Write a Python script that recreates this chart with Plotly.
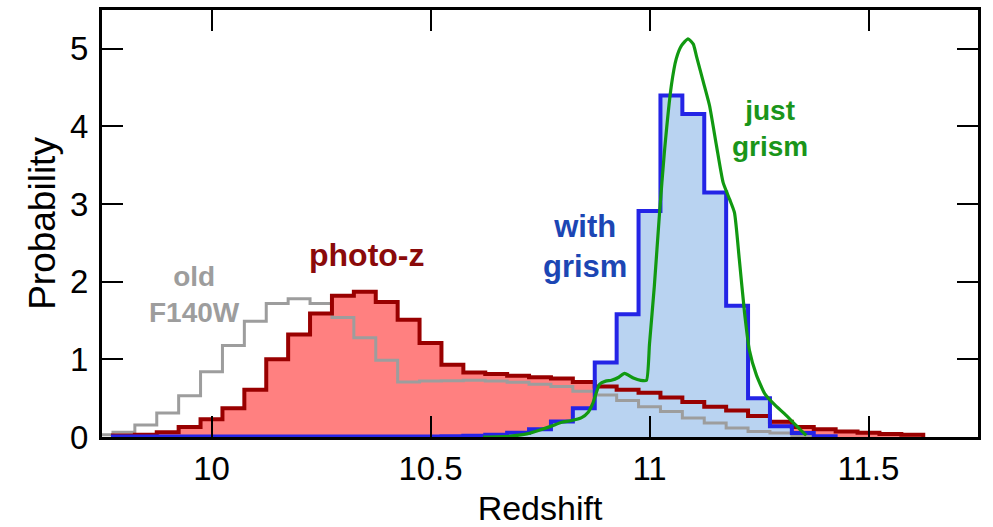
import numpy as np
import plotly.graph_objects as go

# ---------------- data ----------------
BIN = 0.05

# photo-z histogram (dark red, filled)
photoz_centers = [9.80, 9.85, 9.90, 9.95, 10.00, 10.05, 10.10, 10.15, 10.20, 10.25,
                  10.30, 10.35, 10.40, 10.45, 10.50, 10.55, 10.60, 10.65, 10.70, 10.75,
                  10.80, 10.85, 10.90, 10.95, 11.00, 11.05, 11.10, 11.15, 11.20, 11.25,
                  11.30, 11.35, 11.40, 11.45, 11.50, 11.55, 11.60]
photoz_vals = [0.02, 0.03, 0.06, 0.13, 0.23, 0.37, 0.61, 1.00, 1.32, 1.59,
               1.82, 1.87, 1.74, 1.51, 1.21, 0.93, 0.83, 0.81, 0.79, 0.77,
               0.755, 0.71, 0.65, 0.61, 0.57, 0.51, 0.45, 0.39, 0.34, 0.27,
               0.195, 0.13, 0.10, 0.07, 0.055, 0.04, 0.03]

# with grism histogram (blue, filled)
grism_centers = [9.80, 9.85, 9.90, 9.95, 10.00, 10.05, 10.10, 10.15, 10.20, 10.25,
                 10.30, 10.35, 10.40, 10.45, 10.50, 10.55, 10.60, 10.65, 10.70, 10.75,
                 10.80, 10.85, 10.90, 10.95, 11.00, 11.05, 11.10, 11.15, 11.20, 11.25,
                 11.30, 11.35, 11.40]
grism_vals = [0.005, 0.005, 0.005, 0.005, 0.005, 0.005, 0.005, 0.005, 0.005, 0.005,
              0.005, 0.005, 0.005, 0.005, 0.008, 0.01, 0.015, 0.03, 0.055, 0.10,
              0.20, 0.37, 0.96, 1.58, 2.91, 4.40, 4.16, 3.15, 1.69, 0.50,
              0.14, 0.05, 0.01]

# old F140W histogram (gray, line only)
old_centers = [9.75, 9.80, 9.85, 9.90, 9.95, 10.00, 10.05, 10.10, 10.15, 10.20,
               10.25, 10.30, 10.35, 10.40, 10.45, 10.50, 10.55, 10.60, 10.65, 10.70,
               10.75, 10.80, 10.85, 10.90, 10.95, 11.00, 11.05, 11.10, 11.15, 11.20,
               11.25, 11.30, 11.35]
old_vals = [0.03, 0.06, 0.155, 0.31, 0.53, 0.84, 1.18, 1.49, 1.72, 1.78,
            1.72, 1.54, 1.28, 0.99, 0.71, 0.72, 0.725, 0.73, 0.72, 0.705,
            0.68, 0.65, 0.59, 0.54, 0.47, 0.39, 0.33, 0.245, 0.18, 0.115,
            0.07, 0.05, 0.02]

# just grism curve (green, smooth)
just_z = [10.62, 10.68, 10.72, 10.75, 10.776, 10.80, 10.82, 10.845, 10.86, 10.871,
          10.886, 10.90, 10.913, 10.93, 10.943, 10.963, 10.98, 10.993, 11.000, 11.011,
          11.023, 11.034, 11.050, 11.061, 11.073, 11.088, 11.100, 11.107, 11.123, 11.137,
          11.153, 11.168, 11.183, 11.194, 11.205, 11.217, 11.228, 11.244, 11.263, 11.285,
          11.308, 11.331, 11.347, 11.358]
just_p = [0.0, 0.01, 0.04, 0.09, 0.14, 0.19, 0.21, 0.25, 0.32, 0.44,
          0.68, 0.72, 0.73, 0.77, 0.82, 0.76, 0.73, 0.73, 1.20, 1.94,
          2.89, 3.67, 4.53, 4.87, 5.04, 5.13, 5.06, 4.91, 4.57, 4.27,
          3.75, 3.28, 3.06, 2.89, 2.29, 1.60, 1.12, 0.80, 0.56, 0.42,
          0.30, 0.17, 0.08, 0.02]

x_tickvals = [10, 10.5, 11, 11.5]
x_ticktext = ["10", "10.5", "11", "11.5"]
y_tickvals = [0, 1, 2, 3, 4, 5]
y_ticktext = ["0", "1", "2", "3", "4", "5"]

# ---------------- styles ----------------
RED_LINE = "#990000"
RED_FILL = "#ff8080"
BLUE_LINE = "#2424e6"
BLUE_FILL = "#b9d3f1"
GRAY_LINE = "#9d9d9d"
GREEN_LINE = "#119911"
FONT = "Liberation Sans"


def step_xy(centers, vals):
    c = np.asarray(centers, dtype=float)
    edges = list(c - BIN / 2) + [c[-1] + BIN / 2]
    x = [edges[0]] + edges + [edges[-1]]
    y = [0.0] + list(vals) + [vals[-1], 0.0]
    return x, y


rx, ry = step_xy(photoz_centers, photoz_vals)
bx, by = step_xy(grism_centers, grism_vals)
gx, gy = step_xy(old_centers, old_vals)

fig = go.Figure()
fig.add_trace(go.Scatter(x=rx, y=ry, mode="lines", line=dict(shape="hv", width=0),
                         fill="tozeroy", fillcolor=RED_FILL, hoverinfo="skip", showlegend=False))
fig.add_trace(go.Scatter(x=bx, y=by, mode="lines", line=dict(shape="hv", width=0),
                         fill="tozeroy", fillcolor=BLUE_FILL, hoverinfo="skip", showlegend=False))
fig.add_trace(go.Scatter(x=gx, y=gy, mode="lines", line=dict(shape="hv", width=3, color=GRAY_LINE),
                         name="old F140W", showlegend=False))
fig.add_trace(go.Scatter(x=rx, y=ry, mode="lines", line=dict(shape="hv", width=4, color=RED_LINE),
                         name="photo-z", showlegend=False))
fig.add_trace(go.Scatter(x=bx, y=by, mode="lines", line=dict(shape="hv", width=4, color=BLUE_LINE),
                         name="with grism", showlegend=False))
fig.add_trace(go.Scatter(x=just_z, y=just_p, mode="lines",
                         line=dict(shape="spline", smoothing=0.5, width=3.2, color=GREEN_LINE),
                         name="just grism", showlegend=False))

labels = [
    ("old<br>F140W", 9.961, 1.84, GRAY_LINE, 28),
    ("photo-z", 10.354, 2.35, "#8a0a0a", 32),
    ("with<br>grism", 10.852, 2.45, "#1c46b4", 31),
    ("just<br>grism", 11.274, 3.97, "#1a951a", 28),
]
for txt, xx, yy, col, sz in labels:
    fig.add_annotation(x=xx, y=yy, xref="x", yref="y", text="<b>%s</b>" % txt,
                       showarrow=False, xanchor="center", yanchor="middle", align="center",
                       font=dict(family=FONT, size=sz, color=col))

axis_common = dict(
    showline=True, linewidth=3, linecolor="black", mirror="allticks",
    ticks="inside", ticklen=21, tickwidth=2, tickcolor="black",
    showgrid=False, zeroline=False, automargin=False,
    tickfont=dict(family=FONT, size=33, color="black"),
)

fig.update_layout(
    width=993, height=527,
    margin=dict(l=102, r=15, t=10, b=90, autoexpand=False),
    paper_bgcolor="white", plot_bgcolor="white",
    font=dict(family=FONT, color="black"),
    xaxis=dict(range=[9.75, 11.75], tickvals=x_tickvals, ticktext=x_ticktext,
               ticklabelstandoff=0,
               title=dict(text="Redshift", font=dict(family=FONT, size=34), standoff=16),
               **axis_common),
    yaxis=dict(range=[0, 5.5], tickvals=y_tickvals, ticktext=y_ticktext,
               ticklabelstandoff=4,
               title=dict(text="Probability", font=dict(family=FONT, size=37), standoff=4),
               **axis_common),
)

fig.write_html("out.html")
